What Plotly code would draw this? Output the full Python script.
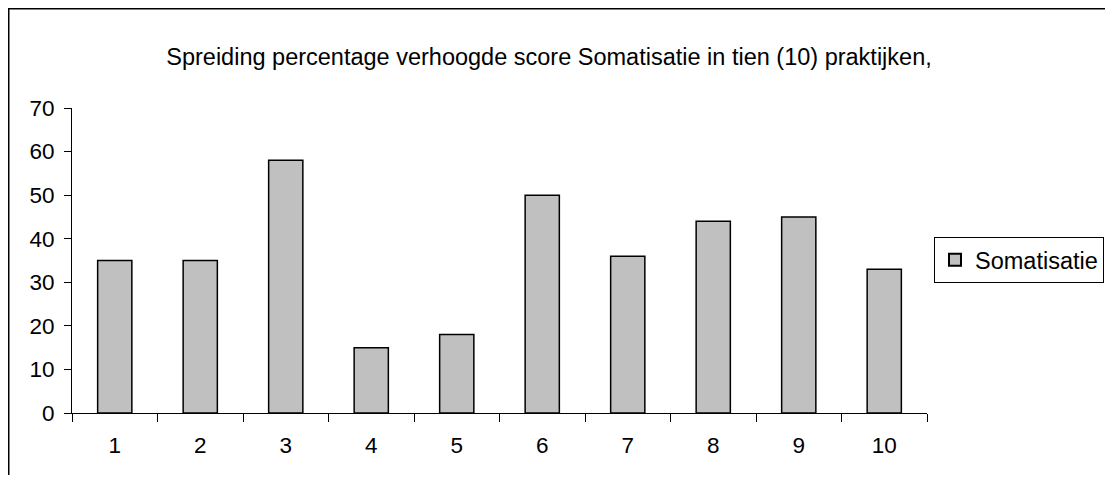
import plotly.graph_objects as go

practices = ["1", "2", "3", "4", "5", "6", "7", "8", "9", "10"]
somatisatie = [35, 35, 58, 15, 18, 50, 36, 44, 45, 33]

# page has an 8px body margin, so the figure starts at (8, 8) on screen
OFF = 8
W, H = 1113 - 2 * OFF, 483 - 2 * OFF
L, T = 64, 100
pw, ph = 855, 305
R, B = W - L - pw, H - T - ph


def px_x(x):
    # screen pixel -> paper coord
    return (x - OFF - L) / pw


def px_y(y):
    return (H - B - (y - OFF)) / ph


fig = go.Figure(
    go.Bar(
        x=practices,
        y=somatisatie,
        name="Somatisatie",
        marker=dict(color="#C0C0C0", line=dict(color="black", width=1.5)),
        width=0.40,
    )
)

fig.update_layout(
    width=W,
    height=H,
    margin=dict(l=L, r=R, t=T, b=B, autoexpand=False),
    paper_bgcolor="white",
    plot_bgcolor="white",
    font=dict(family="Liberation Sans, Arial", size=22.5, color="black"),
    title=dict(
        text="Spreiding percentage verhoogde score Somatisatie in tien (10) praktijken,",
        x=(549 - OFF) / W,
        xanchor="center",
        y=1 - (57 - OFF) / H,
        yanchor="middle",
        font=dict(size=23.5),
    ),
    showlegend=True,
    legend=dict(
        x=px_x(1104),
        xanchor="right",
        y=px_y(260),
        yanchor="middle",
        bordercolor="black",
        borderwidth=1,
        font=dict(size=23.5),
        itemsizing="constant",
    ),
    xaxis=dict(
        type="category",
        automargin=False,
        showline=True,
        linecolor="black",
        linewidth=1,
        ticks="outside",
        tickson="boundaries",
        ticklen=8,
        tickcolor="black",
        ticklabelstandoff=12,
        showgrid=False,
        zeroline=False,
    ),
    yaxis=dict(
        range=[0, 70],
        dtick=10,
        automargin=False,
        showline=True,
        linecolor="black",
        linewidth=1,
        ticks="outside",
        ticklen=7,
        tickcolor="black",
        ticklabelstandoff=5,
        showgrid=False,
        zeroline=False,
    ),
    shapes=[
        dict(type="line", xref="paper", yref="paper",
             x0=px_x(8.5), x1=px_x(8.5), y0=px_y(8), y1=px_y(500),
             line=dict(color="black", width=2)),
        dict(type="line", xref="paper", yref="paper",
             x0=px_x(8), x1=px_x(1130), y0=px_y(8.5), y1=px_y(8.5),
             line=dict(color="black", width=2)),
    ],
)

fig.write_html("out.html")
